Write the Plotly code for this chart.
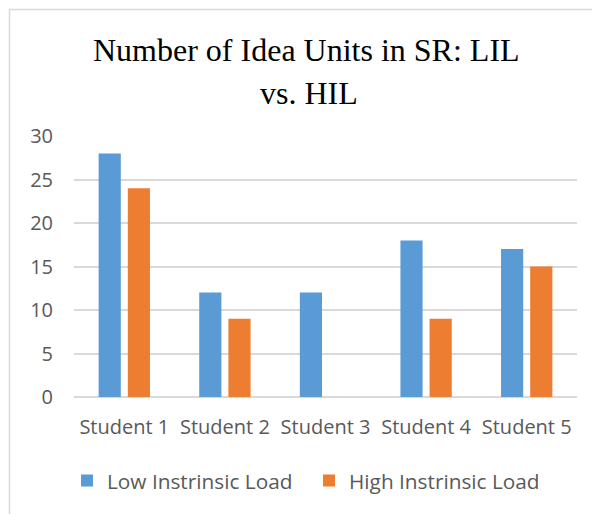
import plotly.graph_objects as go

categories = ["Student 1", "Student 2", "Student 3", "Student 4", "Student 5"]
low_load = [28, 12, 12, 18, 17]
high_load = [24, 9, 0, 9, 15]
series_names = ["Low Instrinsic Load", "High Instrinsic Load"]
title_lines = ["Number of Idea Units in SR: LIL", "vs. HIL"]

# page body adds an 8px offset; figure coords = screen coords - 8
OFF = 8
W, H = 600 - OFF, 514 - OFF
L, R, T, B = 74 - OFF, 23, 136 - OFF, 117
pw, ph = W - L - R, H - T - B

def px_x(x):
    return (x - OFF - L) / pw

def px_y(y):
    return (H - B - (y - OFF)) / ph

fig = go.Figure()
fig.add_bar(x=categories, y=low_load, name=series_names[0],
            marker=dict(color="#5B9BD5", line=dict(width=0)))
fig.add_bar(x=categories, y=high_load, name=series_names[1],
            marker=dict(color="#ED7D31", line=dict(width=0)))

sans = "Open Sans, Noto Sans, Liberation Sans, sans-serif"
tick_font = dict(family=sans, size=20, color="#595959")
legend_font = dict(family=sans, size=20.8, color="#595959")
title_font = dict(family="Liberation Serif, Times New Roman, serif", size=32, color="#000000")

fig.update_layout(
    width=W, height=H,
    margin=dict(l=L, r=R, t=T, b=B, autoexpand=False),
    paper_bgcolor="white", plot_bgcolor="white",
    barmode="group", bargap=0.42, bargroupgap=0.24,
    showlegend=True,
    legend=dict(orientation="h", x=px_x(67), xanchor="left",
                y=px_y(481), yanchor="middle", font=legend_font,
                entrywidth=197, itemwidth=30),
    xaxis=dict(showgrid=False, showline=False, zeroline=False,
               tickfont=tick_font, ticklabelstandoff=16),
    yaxis=dict(range=[0, 30], dtick=5, showgrid=True, gridcolor="#D9D9D9",
               gridwidth=1.5, zeroline=True, zerolinecolor="#D9D9D9",
               zerolinewidth=1.5, showline=False, tickfont=tick_font,
               ticklabelstandoff=20),
    shapes=[dict(type="rect", xref="paper", yref="paper",
                 x0=px_x(9.5), x1=px_x(640), y0=px_y(560), y1=px_y(9.5),
                 line=dict(color="#D9D9D9", width=1.5), fillcolor="rgba(0,0,0,0)",
                 layer="below")],
    annotations=[
        dict(text=title_lines[0], xref="paper", yref="paper", x=px_x(306.5), y=px_y(50.5),
             xanchor="center", yanchor="middle", showarrow=False, font=title_font),
        dict(text=title_lines[1], xref="paper", yref="paper", x=px_x(308.5), y=px_y(93.5),
             xanchor="center", yanchor="middle", showarrow=False, font=title_font),
    ],
)

fig.write_html("out.html")
